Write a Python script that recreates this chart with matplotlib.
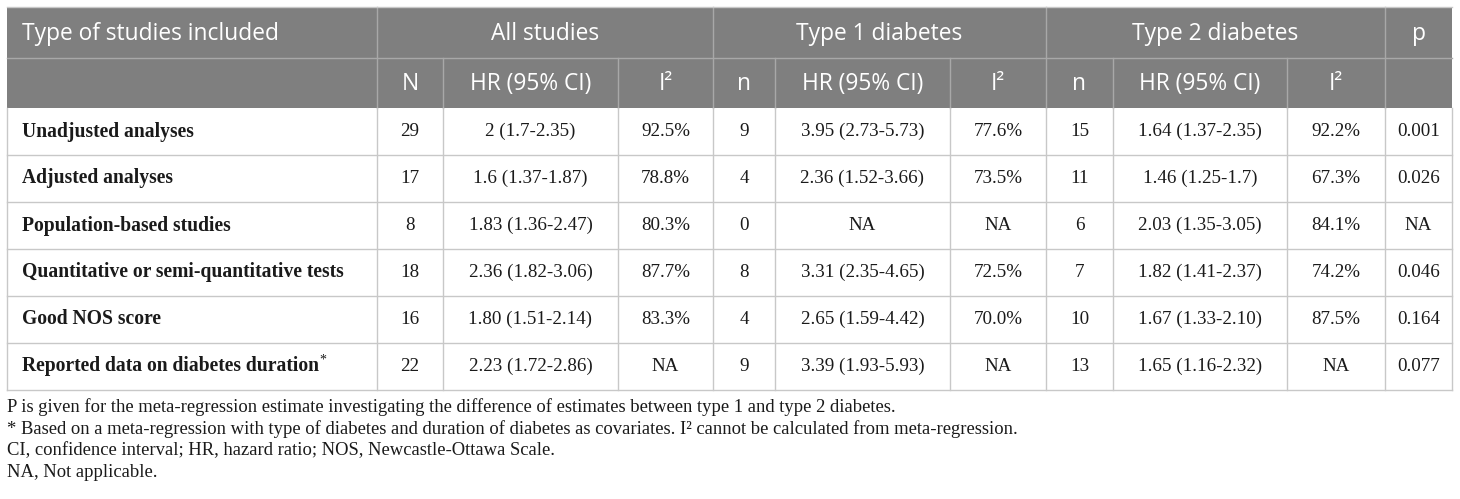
import matplotlib
matplotlib.use("Agg")
import matplotlib.pyplot as plt
from matplotlib.patches import Rectangle

# ---------------- data ----------------
group_headers = ["All studies", "Type 1 diabetes", "Type 2 diabetes", "p"]
sub_headers = ["N", "HR (95% CI)", "I²", "n", "HR (95% CI)", "I²", "n", "HR (95% CI)", "I²", ""]
row_labels = [
    "Unadjusted analyses",
    "Adjusted analyses",
    "Population-based studies",
    "Quantitative or semi-quantitative tests",
    "Good NOS score",
    "Reported data on diabetes duration",
]
all_n = ["29", "17", "8", "18", "16", "22"]
all_hr = ["2 (1.7-2.35)", "1.6 (1.37-1.87)", "1.83 (1.36-2.47)", "2.36 (1.82-3.06)", "1.80 (1.51-2.14)", "2.23 (1.72-2.86)"]
all_i2 = ["92.5%", "78.8%", "80.3%", "87.7%", "83.3%", "NA"]
t1_n = ["9", "4", "0", "8", "4", "9"]
t1_hr = ["3.95 (2.73-5.73)", "2.36 (1.52-3.66)", "NA", "3.31 (2.35-4.65)", "2.65 (1.59-4.42)", "3.39 (1.93-5.93)"]
t1_i2 = ["77.6%", "73.5%", "NA", "72.5%", "70.0%", "NA"]
t2_n = ["15", "11", "6", "7", "10", "13"]
t2_hr = ["1.64 (1.37-2.35)", "1.46 (1.25-1.7)", "2.03 (1.35-3.05)", "1.82 (1.41-2.37)", "1.67 (1.33-2.10)", "1.65 (1.16-2.32)"]
t2_i2 = ["92.2%", "67.3%", "84.1%", "74.2%", "87.5%", "NA"]
p_values = ["0.001", "0.026", "NA", "0.046", "0.164", "0.077"]
footnotes = [
    "P is given for the meta-regression estimate investigating the difference of estimates between type 1 and type 2 diabetes.",
    "* Based on a meta-regression with type of diabetes and duration of diabetes as covariates. I² cannot be calculated from meta-regression.",
    "CI, confidence interval; HR, hazard ratio; NOS, Newcastle-Ottawa Scale.",
    "NA, Not applicable.",
]

# ---------------- layout (pixels) ----------------
W, H = 1460, 499
col_x = [7, 377, 443, 618, 713, 775, 950, 1046, 1113, 1287, 1385, 1452]
group_spans = [(1, 4), (4, 7), (7, 10), (10, 11)]
y_head1, y_head2, y_body = 7, 58, 108
row_h = 47
n_rows = len(row_labels)
y_bottom = y_body + row_h * n_rows

HEAD_BG = "#7f7f7f"
HEAD_LINE = "#a8a8a8"
BODY_LINE = "#c8c8c8"
TXT = "#1a1a1a"

fig = plt.figure(figsize=(W / 100, H / 100), dpi=100)
ax = fig.add_axes([0, 0, 1, 1])
ax.set_xlim(0, W)
ax.set_ylim(H, 0)
ax.axis("off")

# header background
ax.add_patch(Rectangle((col_x[0], y_head1), col_x[-1] - col_x[0], y_body - y_head1,
                       facecolor=HEAD_BG, edgecolor="none"))

head_font = dict(family="Open Sans", fontsize=16.4, color="white")
body_font = dict(family="Liberation Serif", fontsize=13.7, color=TXT)
label_font = dict(family="Liberation Serif", fontsize=14.1, color=TXT, fontweight="bold")

# header row 1
ax.text(22, (y_head1 + y_head2) / 2 + 1, "Type of studies included", ha="left", va="center", **head_font)
for (a, b), g in zip(group_spans, group_headers):
    ax.text((col_x[a] + col_x[b]) / 2, (y_head1 + y_head2) / 2 + 1, g, ha="center", va="center", **head_font)
# header row 2
for i, s in enumerate(sub_headers):
    ax.text((col_x[i + 1] + col_x[i + 2]) / 2, (y_head2 + y_body) / 2 + 1, s, ha="center", va="center", **head_font)

# header lines
ax.plot([col_x[0], col_x[-1]], [y_head2, y_head2], color=HEAD_LINE, lw=1)
for x in [col_x[1], col_x[4], col_x[7], col_x[10]]:
    ax.plot([x, x], [y_head1, y_body], color=HEAD_LINE, lw=1)
for x in [col_x[2], col_x[3], col_x[5], col_x[6], col_x[8], col_x[9]]:
    ax.plot([x, x], [y_head2, y_body], color=HEAD_LINE, lw=1)

# body
columns = [all_n, all_hr, all_i2, t1_n, t1_hr, t1_i2, t2_n, t2_hr, t2_i2, p_values]
fig.canvas.draw()
renderer = fig.canvas.get_renderer()
for r in range(n_rows):
    yc = y_body + row_h * (r + 0.5)
    t = ax.text(22, yc, row_labels[r], ha="left", va="center", **label_font)
    if r == n_rows - 1:
        bb = t.get_window_extent(renderer)
        ax.text(bb.x1, yc - 6, "*", ha="left", va="center",
                family="Liberation Serif", fontsize=10, color=TXT)
    for c, col in enumerate(columns):
        ax.text((col_x[c + 1] + col_x[c + 2]) / 2, yc, col[r], ha="center", va="center", **body_font)
    ax.plot([col_x[0], col_x[-1]], [y_body + row_h * (r + 1)] * 2, color=BODY_LINE, lw=1)

for x in col_x:
    ax.plot([x, x], [y_body, y_bottom], color=BODY_LINE, lw=1)
ax.plot([col_x[0], col_x[-1]], [y_head1, y_head1], color=BODY_LINE, lw=1)

# footnotes
for i, f in enumerate(footnotes):
    ax.text(7, 407 + 21.7 * i, f, ha="left", va="center",
            family="Liberation Serif", fontsize=13.4, color=TXT)

fig.savefig("out.png", dpi=100)
